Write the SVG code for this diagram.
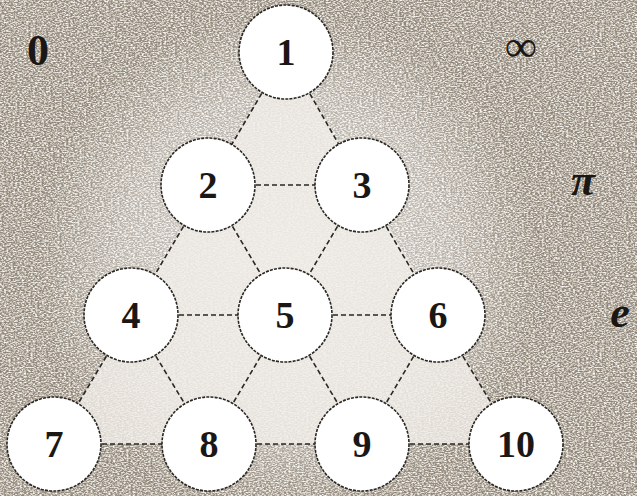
<svg xmlns="http://www.w3.org/2000/svg" width="637" height="496" viewBox="0 0 637 496">
<defs>
<filter id="tex" x="0" y="0" width="100%" height="100%">
<feTurbulence type="fractalNoise" baseFrequency="0.45 0.8" numOctaves="2" seed="5" result="n"/>
<feColorMatrix in="n" type="matrix" values="0 0 0 0 0.25  0 0 0 0 0.22  0 0 0 0 0.19  0 0 0 -3 1.75" result="dark"/>
<feColorMatrix in="n" type="matrix" values="0 0 0 0 0.97  0 0 0 0 0.96  0 0 0 0 0.93  0 0 0 3 -1.35" result="light"/>
<feMerge><feMergeNode in="dark"/><feMergeNode in="light"/></feMerge>
<feComposite operator="in" in2="SourceGraphic"/>
</filter>
<radialGradient id="glow" cx="286" cy="260" r="250" gradientUnits="userSpaceOnUse">
<stop offset="0" stop-color="#ffffff" stop-opacity="0.6"/>
<stop offset="0.65" stop-color="#ffffff" stop-opacity="0.35"/>
<stop offset="1" stop-color="#ffffff" stop-opacity="0"/>
</radialGradient>
<style>
.edge{stroke:#2a2622;stroke-width:1.6;stroke-dasharray:5 3;fill:none}
.node circle{fill:#ffffff;stroke:#2a2622;stroke-width:1.6;stroke-dasharray:3 1.2}
.node text{font-family:"Liberation Serif","DejaVu Serif",serif;font-weight:bold;font-size:38px;fill:#1a1714;text-anchor:middle;dominant-baseline:central}
.sym{font-family:"Liberation Serif","DejaVu Serif",serif;font-weight:bold;font-size:44px;fill:#1a1714;text-anchor:middle;dominant-baseline:central}
</style>
</defs>
<rect width="637" height="496" fill="#b4aa9b"/>
<rect width="637" height="496" fill="#ffffff" filter="url(#tex)"/>
<rect width="637" height="496" fill="url(#glow)"/>
<polygon points="286,52 54,444 516,444" fill="#f1eee9" opacity="0.8"/>
<g id="connectors">
<line class="edge" x1="286" y1="52" x2="208" y2="185"/>
<line class="edge" x1="286" y1="52" x2="362" y2="185"/>
<line class="edge" x1="208" y1="185" x2="362" y2="185"/>
<line class="edge" x1="208" y1="185" x2="131" y2="315"/>
<line class="edge" x1="208" y1="185" x2="285" y2="315"/>
<line class="edge" x1="362" y1="185" x2="285" y2="315"/>
<line class="edge" x1="362" y1="185" x2="438" y2="315"/>
<line class="edge" x1="131" y1="315" x2="285" y2="315"/>
<line class="edge" x1="285" y1="315" x2="438" y2="315"/>
<line class="edge" x1="131" y1="315" x2="54" y2="444"/>
<line class="edge" x1="131" y1="315" x2="209" y2="444"/>
<line class="edge" x1="285" y1="315" x2="209" y2="444"/>
<line class="edge" x1="285" y1="315" x2="362" y2="444"/>
<line class="edge" x1="438" y1="315" x2="362" y2="444"/>
<line class="edge" x1="438" y1="315" x2="516" y2="444"/>
<line class="edge" x1="54" y1="444" x2="209" y2="444"/>
<line class="edge" x1="209" y1="444" x2="362" y2="444"/>
<line class="edge" x1="362" y1="444" x2="516" y2="444"/>
</g>
<g id="n1" class="node"><circle cx="286" cy="52" r="47"/><text x="286" y="52">1</text></g>
<g id="n2" class="node"><circle cx="208" cy="185" r="47"/><text x="208" y="185">2</text></g>
<g id="n3" class="node"><circle cx="362" cy="185" r="47"/><text x="362" y="185">3</text></g>
<g id="n4" class="node"><circle cx="131" cy="315" r="47"/><text x="131" y="315">4</text></g>
<g id="n5" class="node"><circle cx="285" cy="315" r="47"/><text x="285" y="315">5</text></g>
<g id="n6" class="node"><circle cx="438" cy="315" r="47"/><text x="438" y="315">6</text></g>
<g id="n7" class="node"><circle cx="54" cy="444" r="47"/><text x="54" y="444">7</text></g>
<g id="n8" class="node"><circle cx="209" cy="444" r="47"/><text x="209" y="444">8</text></g>
<g id="n9" class="node"><circle cx="362" cy="444" r="47"/><text x="362" y="444">9</text></g>
<g id="n10" class="node"><circle cx="516" cy="444" r="47"/><text x="516" y="444">10</text></g>
<text class="sym" x="38" y="50">0</text>
<text class="sym" x="521" y="46" font-size="64">∞</text>
<text class="sym" x="583" y="180" font-style="italic">π</text>
<text class="sym" x="620" y="312" font-style="italic">e</text>
</svg>
